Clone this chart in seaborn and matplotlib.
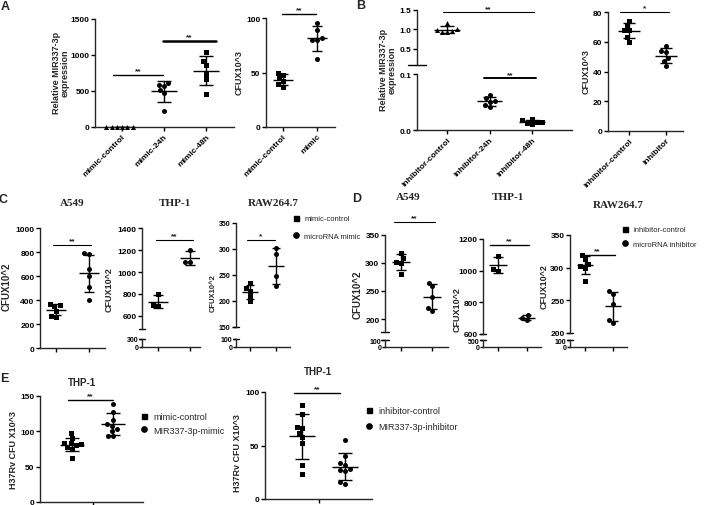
import warnings
import numpy as np
import seaborn as sns
import matplotlib.pyplot as plt
from matplotlib.lines import Line2D

warnings.filterwarnings("ignore")

# ---------------- data ----------------
a_order = ["mimic-control", "mimic-24h", "mimic-48h"]
a_ctrl = [0, 0, 0, 0, 0, 0]
a_24h = [610, 590, 570, 520, 470, 220]
a_48h = [1036, 920, 864, 734, 664, 464]

a_cfu_order = ["mimic-control", "mimic"]
a_cfu_ctrl = [50, 48, 45, 42, 39, 37]
a_cfu_mimic = [95, 89, 82, 80, 80, 62]

b_order = ["inhibitor-control", "inhibitor-24h", "inhibitor-48h"]
b_ctrl = [1.15, 1.0, 0.98, 0.95, 0.92, 0.92]
b_24h = [0.063, 0.057, 0.052, 0.050, 0.045, 0.041]
b_48h = [0.020, 0.017, 0.015, 0.014, 0.013, 0.011]

b_cfu_order = ["inhibitor-control", "inhibitor"]
b_cfu_ctrl = [74, 71, 68, 68, 63, 60]
b_cfu_inh = [57, 54, 53, 49, 47, 44]

c_a549_ctrl = [370, 360, 350, 310, 270, 260]
c_a549_mimic = [790, 780, 660, 600, 510, 400]
c_thp1_ctrl = [800, 700, 690]
c_thp1_mimic = [1200, 1095, 1090]
c_raw_ctrl = [235, 225, 220, 210, 200]
c_raw_mimic = [302, 290, 248, 228]

d_a549_ctrl = [318, 308, 302, 300, 280]
d_a549_inh = [265, 258, 240, 220, 215]
d_thp1_ctrl = [1095, 1010, 1000]
d_thp1_inh = [720, 700, 690]
d_raw_ctrl = [320, 314, 306, 302, 300, 280]
d_raw_inh = [264, 260, 244, 220, 215]

e_mimic_ctrl = [97, 90, 84, 83, 82, 80, 78, 75, 62]
e_mimic = [139, 128, 116, 110, 107, 104, 100, 94, 93]
e_inh_ctrl = [88, 79, 67, 66, 62, 58, 52, 32, 23]
e_inh = [55, 40, 34, 32, 28, 27, 26, 16, 14]

# ---------------- style ----------------
sns.set_style("ticks")
plt.rcParams["font.family"] = ["Liberation Sans", "DejaVu Sans"]
plt.rcParams["font.weight"] = "bold"
plt.rcParams["axes.linewidth"] = 1.0

W, H = 708, 506
fig = plt.figure(figsize=(7.08, 5.06), dpi=100)


def box(x0, y0, x1, y1):
    return [x0 / W, 1 - y1 / H, (x1 - x0) / W, (y1 - y0) / H]


def new_ax(x0, y0, x1, y1, labelsize=6):
    ax = fig.add_axes(box(x0, y0, x1, y1))
    ax.set_facecolor("none")
    sns.despine(ax=ax)
    ax.tick_params(length=3, width=1, labelsize=labelsize, pad=1, colors="black")
    return ax


def dots(ax, groups, markers, clip=True, size=3.6, only=None):
    names = [str(i) for i in range(len(groups))]
    idx = range(len(groups)) if only is None else only
    for i in idx:
        vals = groups[i]
        sns.swarmplot(x=[names[i]] * len(vals), y=vals, order=names, marker=markers[i],
                      color="black", size=size, ax=ax, clip_on=clip, zorder=3)
        mu, sd = np.mean(vals), np.std(vals, ddof=1)
        ax.hlines(mu, i - 0.3, i + 0.3, color="black", lw=1.0, zorder=4)
        ax.vlines(i, mu - sd, mu + sd, color="black", lw=1.0, zorder=4)
        ax.hlines([mu - sd, mu + sd], i - 0.16, i + 0.16, color="black", lw=1.0, zorder=4)
    ax.set_xlabel("")
    ax.set_ylabel("")


def sig(ax, x0, x1, y, text, lw=1.0, fs=6):
    ax.plot([x0, x1], [y, y], color="black", lw=lw, clip_on=False)
    ax.annotate(text, xy=((x0 + x1) / 2, y), xytext=(0, 0.5), textcoords="offset points",
                ha="center", va="bottom", fontsize=fs, annotation_clip=False)


def cap(ax, where):
    # small horizontal cap on the left spine end of a broken axis
    y = 0 if where == "bottom" else 1
    ax.plot([-0.06, 0.06], [y, y], transform=ax.transAxes, color="black", lw=1.0, clip_on=False)


def ylab(x, y, text, fs=6.5):
    fig.text(x / W, 1 - y / H, text, rotation=90, ha="center", va="center",
             fontsize=fs, fontweight="bold", linespacing=1.0)


def plain(ax, xlim, ylim, yticks, xticks=(0, 1)):
    ax.set_xlim(*xlim)
    ax.set_ylim(*ylim)
    ax.set_yticks(yticks)
    ax.set_xticks(xticks)
    ax.set_xticklabels([])


def broken(xb, upper, lower, groups, markers, ylim_up, yticks_up, top_low, xlim, labelsize=6):
    # upper part holds the data, lower part is only the 0..top_low stub
    au = new_ax(xb[0], upper[0], xb[1], upper[1], labelsize)
    dots(au, groups, markers)
    au.set_xlim(*xlim)
    au.set_ylim(*ylim_up)
    au.set_yticks(yticks_up)
    au.spines["bottom"].set_visible(False)
    au.set_xticks([])
    cap(au, "bottom")
    al = new_ax(xb[0], lower[0], xb[1], lower[1])
    al.set_xlim(*xlim)
    al.set_ylim(0, top_low)
    al.set_yticks([0, top_low])
    al.set_xticks([0, 1])
    al.set_xticklabels([])
    al.tick_params(axis="y", labelsize=5, pad=0.5, length=2)
    cap(al, "top")
    return au, al


def rot_labels(ax, labels):
    ax.set_xticks(range(len(labels)))
    ax.set_xticklabels(labels, rotation=45, ha="right", rotation_mode="anchor", fontsize=6)


def legend(x, y, labels, fs, spacing):
    handles = [Line2D([], [], ls="none", marker="s", color="black", markersize=3.6),
               Line2D([], [], ls="none", marker="o", color="black", markersize=3.8)]
    fig.legend(handles, labels, loc="upper left", bbox_to_anchor=(x / W, 1 - y / H),
               frameon=False, prop={"size": fs, "weight": "normal"}, borderpad=0,
               handlelength=1.0, handletextpad=0.6, labelspacing=spacing, borderaxespad=0)


# ---------------- panel A ----------------
ax = new_ax(95, 20, 234, 128)
dots(ax, [a_ctrl, a_24h, a_48h], ["^", "o", "s"], clip=False)
ax.set_xlim(-0.643, 2.667)
ax.set_ylim(0, 1500)
ax.set_yticks([0, 500, 1000, 1500])
rot_labels(ax, a_order)
sig(ax, -0.214, 0.976, 720, "**")
sig(ax, 0.976, 2.24, 1194, "**", lw=1.8)
ylab(61, 73, "Relative MIR337-3p\nexpression")

ax = new_ax(266, 19, 335, 128)
dots(ax, [a_cfu_ctrl, a_cfu_mimic], ["s", "o"])
ax.set_xlim(-0.5, 1.53)
ax.set_ylim(0, 100)
ax.set_yticks([0, 50, 100])
rot_labels(ax, a_cfu_order)
sig(ax, -0.03, 0.97, 103.6, "**")
ylab(239, 73, "CFUX10^3")

# ---------------- panel B ----------------
xl = (-0.706, 2.94)
b_groups = [b_ctrl, b_24h, b_48h]
au = new_ax(417, 10.7, 572, 65.7)
dots(au, b_groups, ["^", "o", "s"], only=[0])
au.set_xlim(*xl)
au.set_ylim(0.1, 1.5)
au.set_yticks([0.5, 1.0, 1.5])
au.spines["bottom"].set_visible(False)
au.set_xticks([])
cap(au, "bottom")
sig(au, -0.1, 2.05, 1.43, "**", lw=0.8)
al = new_ax(417, 75, 572, 131)
dots(al, b_groups, ["^", "o", "s"], only=[1, 2])
al.set_xlim(*xl)
al.set_ylim(0, 0.1)
al.set_yticks([0.0, 0.1])
rot_labels(al, b_order)
sig(al, 0.86, 2.1, 0.092, "**", lw=1.4)
ylab(388, 70, "Relative MIR337-3p\nexpression")

ax = new_ax(608, 13, 683, 132)
dots(ax, [b_cfu_ctrl, b_cfu_inh], ["s", "o"])
ax.set_xlim(-0.57, 1.46)
ax.set_ylim(0, 80)
ax.set_yticks([0, 20, 40, 60, 80])
rot_labels(ax, b_cfu_order)
sig(ax, -0.25, 1.08, 80, "*", lw=0.8)
ylab(586, 72, "CFUX10^3")

# ---------------- panel C ----------------
ax = new_ax(40, 229, 105, 349)
dots(ax, [c_a549_ctrl, c_a549_mimic], ["s", "o"])
plain(ax, (-0.48, 1.48), (0, 1000), [0, 200, 400, 600, 800, 1000])
sig(ax, -0.09, 1.07, 861, "**", lw=0.8)
ylab(7, 287, "CFUX10^2", fs=7)

au, al = broken((142, 200), (229.3, 330), (340, 348), [c_thp1_ctrl, c_thp1_mimic], ["s", "o"],
                (480, 1400), [600, 800, 1000, 1200, 1400], 300, (-0.5, 1.31))
sig(au, -0.06, 1.09, 1296, "**", lw=0.8)
ylab(109, 290, "CFUX10^2")

au, al = broken((236, 290), (224, 328), (340, 348), [c_raw_ctrl, c_raw_mimic], ["s", "o"],
                (150, 350), [150, 200, 250, 300, 350], 100, (-0.54, 1.54), labelsize=5)
sig(au, -0.12, 0.96, 318, "*", lw=0.8)
ylab(213, 293, "CFUX10^2", fs=5.5)
legend(292, 216, ["mimic-control", "microRNA mimic"], 5.5, 1.3)

for x, t in [(72, "A549"), (175, "THP-1"), (273, "RAW264.7")]:
    fig.text(x / W, 1 - 203 / H, t, ha="center", va="center", fontsize=8,
             fontweight="bold", family="Liberation Serif")

# ---------------- panel D ----------------
au, al = broken((385, 448), (235.7, 333), (341, 348), [d_a549_ctrl, d_a549_inh], ["s", "o"],
                (177, 350), [200, 250, 300, 350], 100, (-0.52, 1.52))
sig(au, -0.23, 1.09, 372, "**", lw=0.8)
ylab(358, 295, "CFUX10^2", fs=7)

au, al = broken((483, 541), (240, 335), (341, 348), [d_thp1_ctrl, d_thp1_inh], ["s", "o"],
                (600, 1200), [600, 800, 1000, 1200], 500, (-0.52, 1.5))
sig(au, -0.28, 1.07, 1162, "**")
ylab(457, 310, "CFUX10^2")

au, al = broken((570, 627), (236, 334), (341, 348), [d_raw_ctrl, d_raw_inh], ["s", "o"],
                (200, 350), [200, 250, 300, 350], 100, (-0.54, 1.5))
sig(au, -0.18, 1.07, 320, "**")
ylab(544, 287, "CFUX10^2")
legend(621, 227, ["inhibitor-control", "microRNA inhibitor"], 5.5, 0.9)

for x, y, t in [(408, 198, "A549"), (508, 198, "THP-1"), (618, 206, "RAW264.7")]:
    fig.text(x / W, 1 - y / H, t, ha="center", va="center", fontsize=8,
             fontweight="bold", family="Liberation Serif")

# ---------------- panel E ----------------
ax = new_ax(40, 397, 143, 503)
dots(ax, [e_mimic_ctrl, e_mimic], ["s", "o"])
plain(ax, (-0.78, 1.73), (0, 150), [0, 50, 100, 150], xticks=[0.5])
sig(ax, -0.1, 1.0, 145, "**")
ylab(14, 450, "H37Rv CFU X10^3")
legend(139, 413, ["mimic-control", "MIR337-3p-mimic"], 6.5, 0.5)
fig.text(82 / W, 1 - 383 / H, "THP-1", ha="center", va="center", fontsize=7, fontweight="bold")

ax = new_ax(265, 393, 372, 500)
dots(ax, [e_inh_ctrl, e_inh], ["s", "o"])
plain(ax, (-0.86, 1.63), (0, 100), [0, 50, 100], xticks=[0.4])
sig(ax, -0.19, 0.88, 99.3, "**")
ylab(238, 453, "H37Rv CFU X10^3")
legend(364, 407, ["inhibitor-control", "MIR337-3p-inhibitor"], 6.5, 0.75)
fig.text(318 / W, 1 - 372 / H, "THP-1", ha="center", va="center", fontsize=7, fontweight="bold")

# ---------------- panel letters ----------------
for x, y, t in [(5, 7, "A"), (361, 6, "B"), (3, 200, "C"), (357, 199, "D"), (4, 379, "E")]:
    fig.text(x / W, 1 - y / H, t, ha="center", va="center", fontsize=9, fontweight="bold")

fig.savefig("out.png", dpi=100)
